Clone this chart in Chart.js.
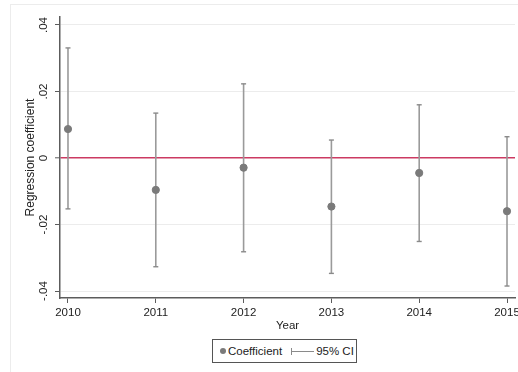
<!DOCTYPE html>
<html>
<head>
<meta charset="utf-8">
<script src="https://cdn.jsdelivr.net/npm/chart.js@4.4.0/dist/chart.umd.min.js"></script>
<style>
  html, body { margin: 0; padding: 0; background: #fff; overflow: hidden; width: 518px; height: 372px; }
  #wrap { position: relative; width: 518px; height: 372px; overflow: hidden; }
  #frame { position: absolute; left: 10px; top: 4px; width: 600px; height: 420px; border: 1px solid #ececec; }
  #chart { position: absolute; left: 0; top: 0; }
  #legend {
    position: absolute; left: 212px; top: 339px; width: 143px; height: 22px;
    border: 1px solid #555; background: #fff;
    font: 11.5px "Liberation Sans", Arial, sans-serif; color: #222;
    display: flex; align-items: center; box-sizing: content-box;
  }
  #legend .dot { width: 6px; height: 6px; border-radius: 50%; background: #7a7a7a; margin: 0 2px 0 7px; }
  #legend .ci { position: relative; width: 23px; height: 7px; margin: 0 2px 0 9px; }
  #legend .ci::before { content: ""; position: absolute; left: 0; right: 0; top: 3px; height: 1px; background: #8a8a8a; }
  #legend .ci::after { content: ""; position: absolute; left: 0; top: 0; width: 1px; height: 7px; background: #8a8a8a; }
</style>
</head>
<body>
<div id="wrap">
  <div id="frame"></div>
  <canvas id="chart" width="530" height="372"></canvas>
  <div id="legend"><span class="dot"></span><span>Coefficient</span><span class="ci"></span><span>95% CI</span></div>
</div>
<script>
// Estimated yearly regression coefficients with 95% confidence bounds
const years = [2010, 2011, 2012, 2013, 2014, 2015];
const coef = [0.0087, -0.0096, -0.0029, -0.0146, -0.0045, -0.0160];
const ciLow = [-0.0153, -0.0327, -0.0282, -0.0347, -0.0251, -0.0385];
const ciHigh = [0.0331, 0.0135, 0.0223, 0.0054, 0.0160, 0.0064];
const yTickValues = [-0.04, -0.02, 0, 0.02, 0.04];
const yTickLabels = ['-.04', '-.02', '0', '.02', '.04'];

const FONT = '"Liberation Sans", Arial, sans-serif';
const AXIS = '#5c5c5c';
const ZERO = '#cc3a62';

// Each interval is a two-point segment; a null between years breaks the line
const ciData = years.flatMap((yr, i) => [
  { x: yr, y: ciLow[i] },
  { x: yr, y: ciHigh[i] },
  { x: yr, y: null }
]);

new Chart(document.getElementById('chart'), {
  type: 'scatter',
  data: {
    datasets: [
      {
        label: 'Coefficient',
        data: years.map((yr, i) => ({ x: yr, y: coef[i] })),
        backgroundColor: '#7a7a7a',
        borderColor: '#7a7a7a',
        pointRadius: 3.6,
        order: 1
      },
      {
        label: '95% CI',
        type: 'line',
        data: ciData,
        showLine: true,
        spanGaps: false,
        borderColor: '#9a9a9a',
        borderWidth: 1.6,
        pointStyle: 'line',
        pointRadius: 2.5,
        pointBorderWidth: 1.4,
        pointBorderColor: '#8a8a8a',
        order: 2
      }
    ]
  },
  options: {
    responsive: false,
    animation: false,
    layout: { padding: { left: 10, right: 15, top: 17, bottom: 38 } },
    plugins: { legend: { display: false }, tooltip: { enabled: false } },
    scales: {
      x: {
        type: 'linear',
        min: 2009.909,
        max: 2015.091,
        afterBuildTicks: s => { s.ticks = years.map(v => ({ value: v })); },
        afterFit: s => { s.height = 36; },
        border: { color: AXIS, width: 1.5 },
        grid: { drawOnChartArea: false, drawTicks: true, tickLength: 5, tickColor: AXIS, tickWidth: 1 },
        ticks: {
          color: '#222', padding: 3, maxRotation: 0, autoSkip: false,
          font: { family: FONT, size: 11.5 },
          callback: v => String(v)
        },
        title: {
          display: true, text: 'Year', color: '#222',
          font: { family: FONT, size: 11.5 },
          padding: { top: 0, bottom: 1 }
        }
      },
      y: {
        min: -0.0421,
        max: 0.0424,
        afterBuildTicks: s => { s.ticks = yTickValues.map(v => ({ value: v })); },
        afterFit: s => { s.width = 50; },
        border: { color: AXIS, width: 1.5 },
        grid: {
          color: c => (c.tick && c.tick.value === 0) ? ZERO : '#ececec',
          lineWidth: c => (c.tick && c.tick.value === 0) ? 1.6 : 1,
          drawTicks: true, tickLength: 5, tickColor: AXIS, tickWidth: 1
        },
        ticks: {
          color: '#222', padding: 1, minRotation: 90, maxRotation: 90,
          crossAlign: 'center', autoSkip: false,
          font: { family: FONT, size: 11.5 },
          callback: v => {
            const i = yTickValues.findIndex(t => Math.abs(t - v) < 1e-9);
            return i >= 0 ? yTickLabels[i] : '';
          }
        },
        title: {
          display: true, text: 'Regression coefficient', color: '#222',
          font: { family: FONT, size: 12 },
          padding: { top: 13, bottom: 0 }
        }
      }
    }
  }
});
</script>
</body>
</html>
